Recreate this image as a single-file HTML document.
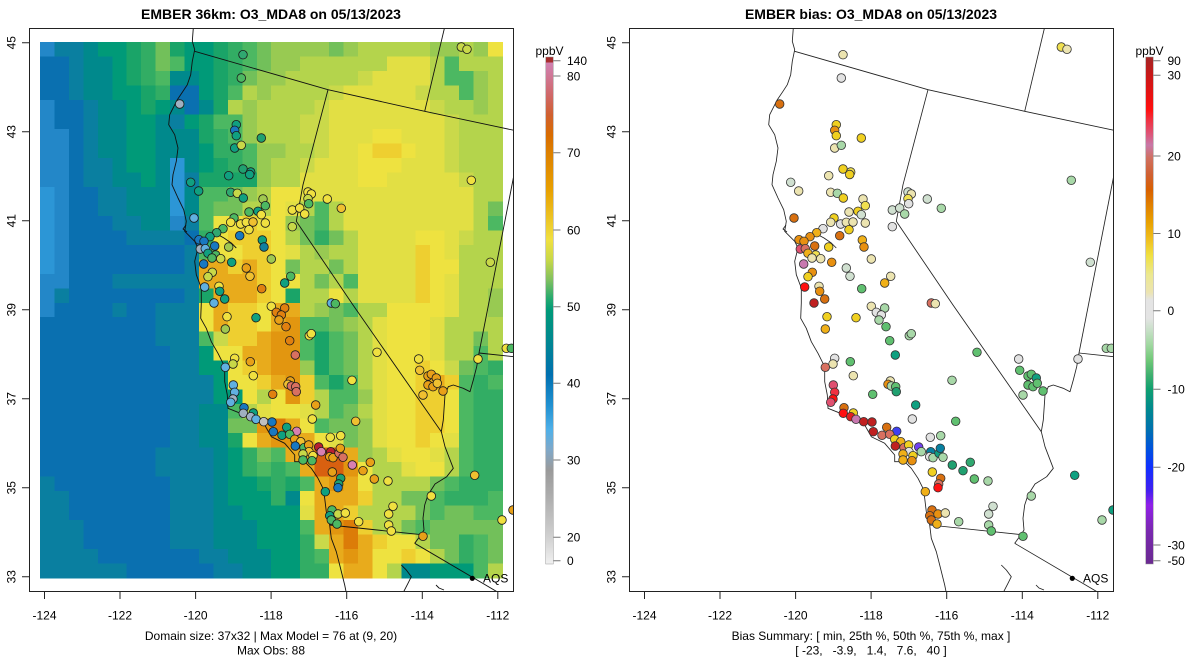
<!DOCTYPE html>
<html><head><meta charset="utf-8">
<style>
html,body{margin:0;padding:0;background:#fff;}
svg{display:block;font-family:"Liberation Sans",Arial,sans-serif;}
</style></head>
<body>
<svg id="s" width="1200" height="672" viewBox="0 0 1200 672" xmlns="http://www.w3.org/2000/svg">
<defs>
<clipPath id="cl"><rect x="29.5" y="28.5" width="484" height="563"/></clipPath>
<clipPath id="cr"><rect x="629.5" y="28.5" width="484" height="563"/></clipPath>
<linearGradient id="gl" x1="0" y1="0" x2="0" y2="1">
<stop offset="0" stop-color="#a02828"/><stop offset="0.0099" stop-color="#a83030"/>
<stop offset="0.0118" stop-color="#d080b0"/><stop offset="0.0355" stop-color="#d07898"/>
<stop offset="0.075" stop-color="#d06868"/><stop offset="0.114" stop-color="#d06030"/>
<stop offset="0.154" stop-color="#d86c00"/><stop offset="0.189" stop-color="#dd8000"/>
<stop offset="0.262" stop-color="#e8a000"/><stop offset="0.312" stop-color="#ecc020"/>
<stop offset="0.361" stop-color="#f0e040"/><stop offset="0.400" stop-color="#c8d848"/>
<stop offset="0.440" stop-color="#80c060"/><stop offset="0.479" stop-color="#20a870"/>
<stop offset="0.499" stop-color="#009a78"/><stop offset="0.558" stop-color="#008890"/>
<stop offset="0.627" stop-color="#0070b0"/><stop offset="0.686" stop-color="#2090d0"/>
<stop offset="0.736" stop-color="#50b0e8"/><stop offset="0.775" stop-color="#80a8c8"/>
<stop offset="0.815" stop-color="#9a9a9a"/><stop offset="0.874" stop-color="#b0b0b0"/>
<stop offset="0.947" stop-color="#d0d0d0"/><stop offset="1" stop-color="#f0f0f0"/>
</linearGradient>
<linearGradient id="gr" x1="0" y1="0" x2="0" y2="1">
<stop offset="0" stop-color="#a02828"/><stop offset="0.012" stop-color="#b02020"/>
<stop offset="0.035" stop-color="#c81818"/><stop offset="0.085" stop-color="#f01010"/>
<stop offset="0.104" stop-color="#ff1010"/><stop offset="0.124" stop-color="#f03040"/>
<stop offset="0.148" stop-color="#e05070"/><stop offset="0.174" stop-color="#c878a8"/>
<stop offset="0.199" stop-color="#d07060"/><stop offset="0.233" stop-color="#d06030"/>
<stop offset="0.262" stop-color="#d86000"/><stop offset="0.292" stop-color="#e08000"/>
<stop offset="0.325" stop-color="#e8a000"/><stop offset="0.361" stop-color="#f0c020"/>
<stop offset="0.391" stop-color="#f0e040"/><stop offset="0.430" stop-color="#ece890"/>
<stop offset="0.464" stop-color="#ece4b0"/><stop offset="0.479" stop-color="#e4e4e4"/>
<stop offset="0.515" stop-color="#e4e4e4"/><stop offset="0.538" stop-color="#c8e0c8"/>
<stop offset="0.568" stop-color="#a0d8a0"/><stop offset="0.598" stop-color="#70c878"/>
<stop offset="0.627" stop-color="#40b070"/><stop offset="0.655" stop-color="#10a070"/>
<stop offset="0.696" stop-color="#008890"/><stop offset="0.736" stop-color="#0070b0"/>
<stop offset="0.775" stop-color="#0050e0"/><stop offset="0.809" stop-color="#1030ff"/>
<stop offset="0.854" stop-color="#4020f0"/><stop offset="0.884" stop-color="#9020e8"/>
<stop offset="0.933" stop-color="#7a28b0"/><stop offset="1" stop-color="#6a2a90"/>
</linearGradient>
</defs>
<rect width="1200" height="672" fill="#fff"/>
<text x="271" y="19" font-size="14" font-weight="bold" text-anchor="middle">EMBER 36km: O3_MDA8 on 05/13/2023</text>
<text x="871" y="19" font-size="14" font-weight="bold" text-anchor="middle">EMBER bias: O3_MDA8 on 05/13/2023</text>

<g id="L" clip-path="url(#cl)"></g>
<g id="R" clip-path="url(#cr)"></g>
<g id="AX"></g>

<rect x="29.5" y="28.5" width="484" height="563" fill="none" stroke="#222" stroke-width="1"/>
<rect x="629.5" y="28.5" width="484" height="563" fill="none" stroke="#222" stroke-width="1"/>

<text x="271" y="640" font-size="12" text-anchor="middle">Domain size: 37x32 | Max Model = 76 at (9, 20)</text>
<text x="271" y="654.5" font-size="12" text-anchor="middle">Max Obs: 88</text>
<text x="871" y="640" font-size="12" text-anchor="middle">Bias Summary: [ min, 25th %, 50th %, 75th %, max ]</text>
<text x="871" y="654.5" font-size="12" text-anchor="middle" style="white-space:pre">[ -23,   -3.9,   1.4,   7.6,   40 ]</text>

<text x="549.5" y="55" font-size="12" text-anchor="middle">ppbV</text>
<rect x="545.7" y="57" width="7.6" height="507" fill="url(#gl)" stroke="#999" stroke-width="0.5"/>
<text x="1149.5" y="55" font-size="12" text-anchor="middle">ppbV</text>
<rect x="1145.7" y="57" width="7.6" height="507" fill="url(#gr)" stroke="#999" stroke-width="0.5"/>
</svg>
<script>
(function(){
var P={a:'#2387c8',b:'#0a70b0',c:'#0a7fa0',d:'#00898c',e:'#009a78',f:'#1aa468',g:'#32ad64',h:'#4cb862',i:'#72c05a',j:'#98ca52',k:'#b4d44c',l:'#cad94a',m:'#e2df44',n:'#eee240',o:'#eecf30',p:'#ebc02a',q:'#e8ab1c',r:'#e29610',s:'#dc7c08',t:'#d86010',u:'#2c96d6'};
var G=[
"accdeefgifeefghijjjjijkkkkkjjkjn",
"bbcddefgiheefghijjkkkkkkmmmkhkkk",
"bbcddefghddefgijjkkkkklmmmmkhhjk",
"bbcddeefgbbefhkjkkkklmmmmmlkkhjk",
"abbcddefedbdfkjkkkklmmmmmmmlkkjk",
"abbcddeedcefhhjkkkllmmmmmmmmlkkk",
"aabcddeedddfghjkkkllmmmnnmmmlkkk",
"aabcddeedddegghjjkklmmnoonmmlkkk",
"aabccdeedudefghjkklmmmnnnmmmlkkk",
"aabccddeducffffjkkmmmmnnmmmmmlkk",
"uabbccdddudhhijknnmmmmmmmmmmmmkk",
"uabbccdddudhiikknmkhkmmmmmmmmmki",
"uabbbccddachnnonnjihkmmmmmmmmmkh",
"uabbbbccccbgnooonkigikmmmmnnmlkk",
"uabbbbbbbbchnnoonmkjkkmmmmonmkkk",
"uabbbbbbbbcqqoqonikkikmmmmonnkkk",
"aabbbccccccqqqqonnkikhmmmmonmkkk",
"acbbbbbbbbcfqqqonfkknkmmmmonmkkj",
"abbbbcbbcccnqoonqqkjihkknnnnmkkj",
"bbbbbbbbcccnqoonqrhhijkmnnnmkkkk",
"bbbbbbbbccchlooqrrhfhikmnnnmkkik",
"bbbbbbbbbccennqqrrhfhikmnnnmkkhk",
"bbbbbbbbbcceenoqrrjfhikmnnonlihg",
"bbbbbbbbbcccennoqrohfhkmnnoqohgh",
"bbbbbbbbbccceenknrokhhjmnnoonhgg",
"bbbbbbbbbccddhkmnnmkhikmnnoonhgg",
"bbbbbbbbbccddiirsqnhiijmnnoonhgg",
"bbbbbbbbbccddfnqrrqnmijmnnonmhgg",
"bbbbbbbbccccdegihqqttqjkmnnmkhgg",
"bbbbbbbbccccdeghghqttrnkkmnnkhgg",
"cbbbbbbbbcccdeefgfhqrqnkkkkihggg",
"ccbbbbbbbcccdeeegdnqqqokkiihgggh",
"ccbbbbbbbcccddeeeemqqokkkkihiihh",
"cccbbbbbbcccdddeeehqrsokkihiiiii",
"cccbbbbbbcccdddeeeglqsqonnkiighi",
"ccccbbbbbbbccdddeeghqrqnnonkighi",
"ccccccbbbbbbccddeeggnqqnkddeeehk"];
var x0=40,y0=42,cw=14.45,ch=14.486;
var L='<g shape-rendering="crispEdges">';
for(var r=0;r<37;r++){var row=G[r];for(var c=0;c<32;c++){var ch0=row.charAt(c)||row.charAt(row.length-1);var x=x0+c*cw,y=y0+r*ch;L+='<rect x="'+x.toFixed(2)+'" y="'+y.toFixed(2)+'" width="'+(cw+0.5).toFixed(2)+'" height="'+(ch+0.5).toFixed(2)+'" fill="'+(P[ch0]||'#b4d44c')+'"/>';}}
L+='</g>';
var lines=[
[193.3,28,192.3,41.3,194.7,49.7,192.3,61.3,190.7,74.7,187.3,84.7,183,91.3,177.3,99.7,169.7,114.7,168.7,124.7,174.7,134.7,178,148,176.3,161.3,173,174.7,172,184.7,178,198,183.7,209.7,186.3,221.3,184.7,231.3,189.7,236.3,194.7,241.3,198,248,194.7,261.3,196.3,274.7,201.3,288,201.3,303,200.7,318.3,206.3,328.3,211.3,341.7,218,353.3,223,363.3,224.7,371.7,224.7,381.7,227.3,395,228,408.3,238,412.3,251.3,416.7,264.7,425,271.3,436.7,284.7,443.3,294.7,455,294.7,461.7,304.7,461.7,311.3,468.3,318,478.3,323,488.3,324.7,498.3,326.3,511.7,329.7,525,331.3,538.3,336.3,551.7,339.7,565,344.7,585,346.3,593],
[186,225,183,229,187,232],
[218,234.7,224,238,231.3,243,236.3,248],
[194.7,51.3,328,89.7,424.7,111.3,514,130.3],
[424.7,111.3,444.7,27],
[328,89.7,303,184.7,296.3,221.3,353,305,441.3,431.7],
[441.3,431.7,445,446.7,453.3,468.3,446.7,476.7,435,484,428,495,424.7,505,423,518.3,424,530,421.3,534.3,414.7,543.3],
[441.3,431.7,443.3,420,445,395,448.3,386.7,453.3,385,463.3,388.3,470,391.7,473.3,380,476.7,366.7,479,353],
[479,353,514,174.7],
[479,353,514,356.7],
[329.7,525,418,534.3,421.3,534.3],
[414.7,543.3,498,592.3,510,600],
[401.3,565,406.3,570,411.3,576.7,408,583.3,403,593],
[436,585,439,588,444,590]
];
function pl(a,dx,col,w){var s='';for(var i=0;i<a.length;i+=2){s+=(a[i]+dx).toFixed(1)+','+a[i+1]+' ';}return '<polyline points="'+s+'" fill="none" stroke="'+col+'" stroke-width="'+w+'" stroke-linejoin="round"/>';}
var LC={g:'#30a870',h:'#4cb862',T:'#10a080',t:'#20a070',B:'#1878c0',b:'#1080a0',L:'#60b0e0',A:'#a0b0c0',Y:'#f0e040',y:'#c8d848',j:'#a0c850',G:'#f0c030',O:'#e8a018',D:'#e08010',S:'#d87060',R:'#b82030',P:'#d880b0',W:'#c0c0c0'};
var RC={e:'#ece4b0',w:'#e2e2e2',q:'#d0e0d0',l:'#a8d8a8',g:'#60c070',t:'#20a070',T:'#10a080',y:'#f0d020',Y:'#f0e050',o:'#f0b018',O:'#e89010',D:'#d87010',s:'#d87060',k:'#e05070',p:'#c878b0',r:'#ff1010',R:'#c02020',b:'#4040f0',u:'#7040f0',B:'#0880a0',x:'#f03040',G:'#30a870',z:'#e02020'};
var D="243,54.7,g,e;241.3,78,h,w;179.7,104,A,D;236.3,124.7,T,y;234.7,130.3,B,O;236.3,135.7,T,y;261.3,138,t,y;234.7,148,T,e;241.3,145.3,y,l;243,169,t,y;250.7,172,T,Y;249.7,174.5,T,y;228.7,175.7,T,e;190.7,182.3,T,q;198.7,191,T,e;230.7,192.3,g,e;237.3,193.3,y,l;243.3,198,T,y;263,199,j,e;265.3,205.7,h,Y;258,211.3,T,y;249,212,h,e;261.3,214.7,Y,q;308,192,Y,q;311.3,194,Y,e;308,198.7,y,Y;308.7,203.7,h,w;327.3,199,Y,q;341.3,208.3,G,l;292.3,210,Y,q;299.7,208,Y,q;304.7,214,Y,l;292.3,226.7,y,w;194,218,L,D;234,218,h,y;230.7,222.3,Y,e;240.7,224,Y,w;246.3,222.3,Y,e;253,222,G,e;265.3,223,Y,e;249,229.7,Y,y;223,228.7,h,w;216.7,232.7,g,o;210,236.7,T,O;199,239.7,B,O;204,241.3,B,O;239.7,235.7,B,D;262.3,240,T,o;264,247,b,O;214.7,246,B,D;228.7,247,j,y;200.3,249,A,k;205.3,248.7,L,s;208,253.3,T,o;215.7,255,h,Y;220.7,258.7,y,e;212,258,h,e;231.7,262.3,T,O;271.3,259,j,e;203.7,264,B,p;212.3,272.3,y,O;208,276.7,y,y;246.3,268,O,q;250,276.3,G,q;290.7,276.3,h,e;284.7,283,T,o;261.7,288.7,D,g;204.7,287,L,r;219,286.3,Y,e;219.7,291.3,T,O;224.7,299,T,D;214,303,L,R;271.3,306.3,Y,e;284.7,308,D,l;331.3,303,L,s;335.3,303.7,h,e;461.3,47,y,Y;467,49.3,y,e;471.3,180.3,Y,l;490.3,262.3,y,q;227,316.7,Y,y;256,317.7,T,y;276.3,312.3,D,w;281.3,315,D,w;279,320,O,l;225.3,329,j,o;286,326.7,D,g;309.3,335.7,Y,l;311.3,333.7,Y,l;289.7,340.7,D,g;295.3,355,S,T;234.7,358.3,Y,w;233,364,y,e;225.3,367.3,L,s;250.3,361.7,O,g;253.3,375.7,Y,e;290.3,381,O,e;288,384.3,G,O;291.3,386,S,l;295.7,386.7,S,g;296.3,391.7,S,t;233.3,385,L,k;234.7,392.3,L,x;233,399,A,r;230.7,402.3,L,k;272.7,394.3,D,g;315.7,405,O,T;312.3,419,Y,w;244,407.7,B,D;243.3,413.3,A,r;253.3,413,T,y;250.7,416.7,A,z;256,419.3,L,p;263.7,421.7,W,R;272,422,B,R;273.3,431.7,B,R;286.7,427.3,T,D;296.7,431.3,P,b;282,435.3,T,s;289.7,434.3,h,s;294.7,439.3,O,y;300.7,441.7,G,o;295.3,446,B,R;304,447.7,h,s;308.7,445,O,y;309,451.7,G,w;303,454,y,o;313,455.7,Y,y;303,460,h,o;312,460.7,h,O;318.7,447,R,u;321.3,451.7,P,l;330.3,437.3,Y,w;340.7,435.7,Y,l;330.7,451.7,R,B;329.7,456.7,O,w;333,457.7,O,l;339,453.3,S,T;340.3,448.3,O,B;343,457.3,S,l;355.7,421.3,G,g;377,352.3,Y,g;352,380.3,Y,l;352.3,465,P,t;370.3,462.3,O,G;363,470.7,O,t;374.3,479,O,g;388,481,Y,l;332.3,472,O,y;340.7,478.3,t,D;338.7,484,t,s;338,487.7,B,r;325.3,491.7,T,o;332,510,h,D;329.7,515.7,T,D;331.3,520,h,D;338,514,y,O;337,524,h,o;345.3,513,Y,e;358.7,521.7,Y,l;393,506.3,Y,q;388.7,514,Y,q;388.7,525,Y,l;391.3,531,Y,g;423,536.3,O,g;431.3,496,Y,l;418.7,359,Y,w;419.7,370.3,G,g;428,376,O,g;431.3,374.3,O,g;436.3,378,O,T;428,385,O,g;433,386.7,O,g;437.3,383.3,G,g;423,395,G,l;443,391,O,g;478,359,Y,w;474.7,475.3,G,T;506.3,348.3,Y,l;511.3,348.3,h,l;502,520,Y,l;513,510,O,T";
var dots=D.split(';');
var Lm='',Rm='',Ld='',Rd='';
for(var i=0;i<lines.length;i++){Lm+=pl(lines[i],0,'#111','0.9');Rm+=pl(lines[i],600,'#222','0.85');}
for(var i=0;i<dots.length;i++){var p=dots[i].split(',');var x=parseFloat(p[0]),y=parseFloat(p[1]);
Ld+='<circle cx="'+x+'" cy="'+y+'" r="4.3" fill="'+(LC[p[2]]||'#888')+'" stroke="#1a1a1a" stroke-width="0.8"/>';
Rd+='<circle cx="'+(x+600).toFixed(1)+'" cy="'+y+'" r="4.3" fill="'+(RC[p[3]]||'#888')+'" stroke="#333" stroke-width="0.8"/>';}
var aqs=function(dx){return '<circle cx="'+(472.3+dx)+'" cy="578.3" r="2.6" fill="#000"/><text x="'+(483+dx)+'" y="582.6" font-size="12">AQS</text>';};
document.getElementById('L').innerHTML=L+Lm+Ld+aqs(0);
document.getElementById('R').innerHTML=Rm+Rd+aqs(600);
var A='';
var xl=['-124','-122','-120','-118','-116','-114','-112'];
var yl=['45','43','41','39','37','35','33'];
for(var pnl=0;pnl<2;pnl++){var dx=pnl*600;var d='';
for(var k=0;k<7;k++){var X=44.5+75.55*k+dx;d+='M'+X.toFixed(1)+',592V599';A+='<text x="'+X.toFixed(1)+'" y="619.5" font-size="12" text-anchor="middle">'+xl[k]+'</text>';
var Y=42.7+89*k;d+='M'+(22+dx)+','+Y.toFixed(1)+'H'+(29.5+dx);A+='<text transform="translate('+(15.5+dx)+','+Y.toFixed(1)+') rotate(-90)" font-size="12" text-anchor="middle">'+yl[k]+'</text>';}
A+='<path d="'+d+'" stroke="#222" stroke-width="1" fill="none"/>';}
var cl=[['140',60.7],['80',76],['70',152.7],['60',230],['50',306.7],['40',383.3],['30',460],['20',537.3],['0',560.7]];
var cr=[['90',60.7],['30',75.3],['20',156],['10',233.5],['0',310.7],['-10',389.3],['-20',467.3],['-30',545],['-50',560.7]];
var d2='';
for(var k=0;k<cl.length;k++){d2+='M553.3,'+cl[k][1]+'H560.5';A+='<text x="567" y="'+(cl[k][1]+4.3).toFixed(1)+'" font-size="12">'+cl[k][0]+'</text>';}
for(var k=0;k<cr.length;k++){d2+='M1153.3,'+cr[k][1]+'H1160.5';A+='<text x="1167.5" y="'+(cr[k][1]+4.3).toFixed(1)+'" font-size="12">'+cr[k][0]+'</text>';}
A+='<path d="'+d2+'" stroke="#777" stroke-width="1" fill="none"/>';
document.getElementById('AX').innerHTML=A;
})();
</script>
</body></html>
